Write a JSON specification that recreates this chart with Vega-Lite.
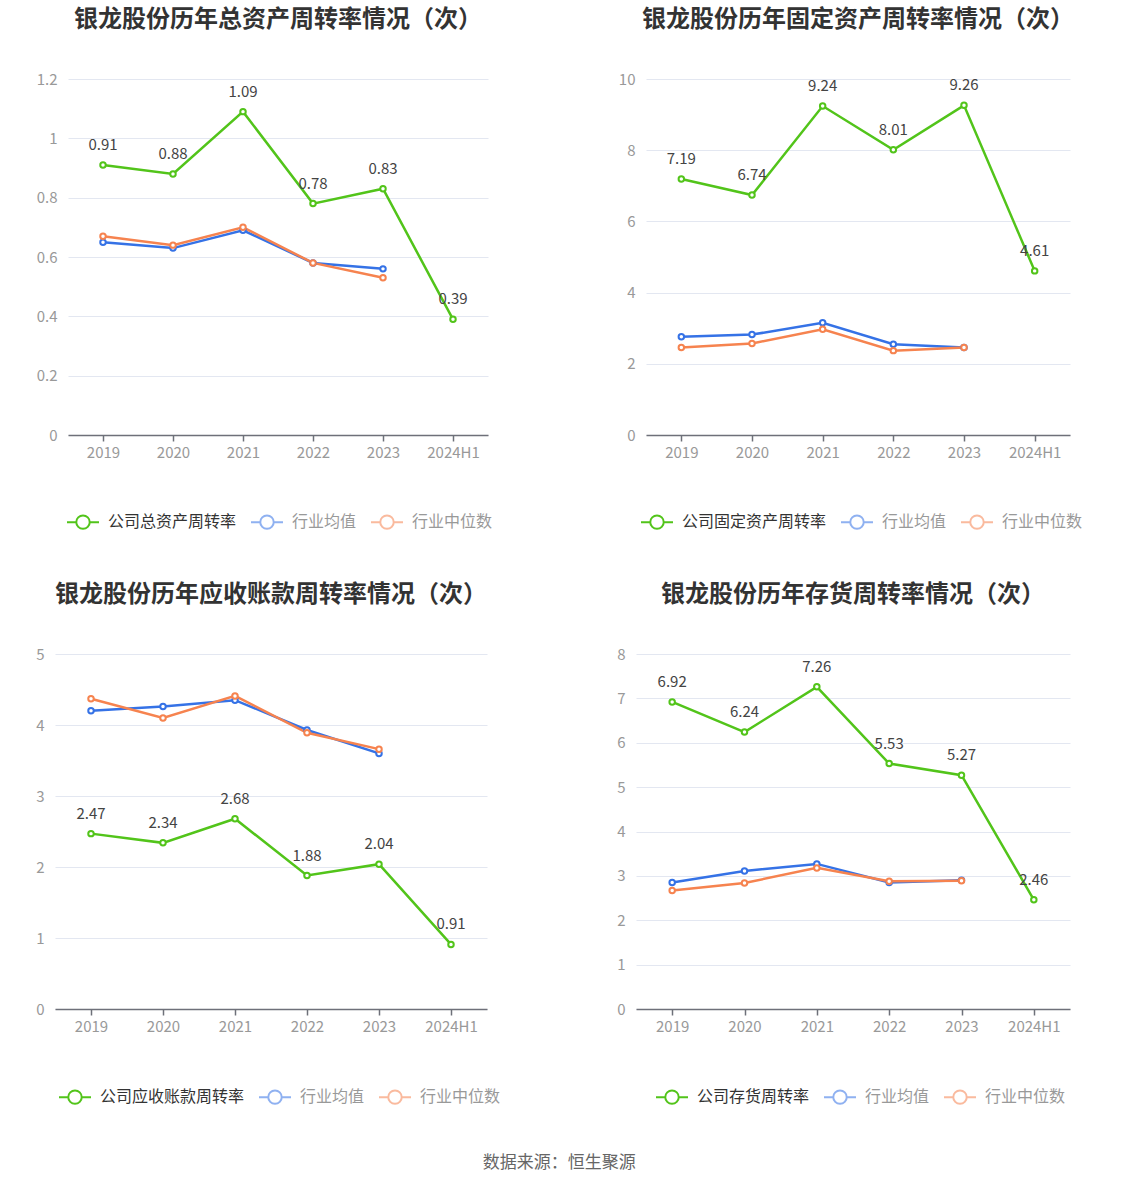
{
  "$schema": "https://vega.github.io/schema/vega-lite/v6.json",
  "background": "white",
  "padding": {"left": 35, "top": 8, "right": 0, "bottom": 10},
  "datasets": {
    "turnover": [
      {"panel": "A", "year": "2019", "series": "公司总资产周转率", "value": 0.91},
      {"panel": "A", "year": "2020", "series": "公司总资产周转率", "value": 0.88},
      {"panel": "A", "year": "2021", "series": "公司总资产周转率", "value": 1.09},
      {"panel": "A", "year": "2022", "series": "公司总资产周转率", "value": 0.78},
      {"panel": "A", "year": "2023", "series": "公司总资产周转率", "value": 0.83},
      {"panel": "A", "year": "2024H1", "series": "公司总资产周转率", "value": 0.39},
      {"panel": "A", "year": "2019", "series": "行业均值", "value": 0.65},
      {"panel": "A", "year": "2020", "series": "行业均值", "value": 0.63},
      {"panel": "A", "year": "2021", "series": "行业均值", "value": 0.69},
      {"panel": "A", "year": "2022", "series": "行业均值", "value": 0.58},
      {"panel": "A", "year": "2023", "series": "行业均值", "value": 0.56},
      {"panel": "A", "year": "2019", "series": "行业中位数", "value": 0.67},
      {"panel": "A", "year": "2020", "series": "行业中位数", "value": 0.64},
      {"panel": "A", "year": "2021", "series": "行业中位数", "value": 0.70},
      {"panel": "A", "year": "2022", "series": "行业中位数", "value": 0.58},
      {"panel": "A", "year": "2023", "series": "行业中位数", "value": 0.53},

      {"panel": "B", "year": "2019", "series": "公司固定资产周转率", "value": 7.19},
      {"panel": "B", "year": "2020", "series": "公司固定资产周转率", "value": 6.74},
      {"panel": "B", "year": "2021", "series": "公司固定资产周转率", "value": 9.24},
      {"panel": "B", "year": "2022", "series": "公司固定资产周转率", "value": 8.01},
      {"panel": "B", "year": "2023", "series": "公司固定资产周转率", "value": 9.26},
      {"panel": "B", "year": "2024H1", "series": "公司固定资产周转率", "value": 4.61},
      {"panel": "B", "year": "2019", "series": "行业均值", "value": 2.76},
      {"panel": "B", "year": "2020", "series": "行业均值", "value": 2.82},
      {"panel": "B", "year": "2021", "series": "行业均值", "value": 3.15},
      {"panel": "B", "year": "2022", "series": "行业均值", "value": 2.55},
      {"panel": "B", "year": "2023", "series": "行业均值", "value": 2.46},
      {"panel": "B", "year": "2019", "series": "行业中位数", "value": 2.46},
      {"panel": "B", "year": "2020", "series": "行业中位数", "value": 2.57},
      {"panel": "B", "year": "2021", "series": "行业中位数", "value": 2.97},
      {"panel": "B", "year": "2022", "series": "行业中位数", "value": 2.37},
      {"panel": "B", "year": "2023", "series": "行业中位数", "value": 2.46},

      {"panel": "C", "year": "2019", "series": "公司应收账款周转率", "value": 2.47},
      {"panel": "C", "year": "2020", "series": "公司应收账款周转率", "value": 2.34},
      {"panel": "C", "year": "2021", "series": "公司应收账款周转率", "value": 2.68},
      {"panel": "C", "year": "2022", "series": "公司应收账款周转率", "value": 1.88},
      {"panel": "C", "year": "2023", "series": "公司应收账款周转率", "value": 2.04},
      {"panel": "C", "year": "2024H1", "series": "公司应收账款周转率", "value": 0.91},
      {"panel": "C", "year": "2019", "series": "行业均值", "value": 4.20},
      {"panel": "C", "year": "2020", "series": "行业均值", "value": 4.26},
      {"panel": "C", "year": "2021", "series": "行业均值", "value": 4.35},
      {"panel": "C", "year": "2022", "series": "行业均值", "value": 3.93},
      {"panel": "C", "year": "2023", "series": "行业均值", "value": 3.60},
      {"panel": "C", "year": "2019", "series": "行业中位数", "value": 4.37},
      {"panel": "C", "year": "2020", "series": "行业中位数", "value": 4.10},
      {"panel": "C", "year": "2021", "series": "行业中位数", "value": 4.41},
      {"panel": "C", "year": "2022", "series": "行业中位数", "value": 3.89},
      {"panel": "C", "year": "2023", "series": "行业中位数", "value": 3.66},

      {"panel": "D", "year": "2019", "series": "公司存货周转率", "value": 6.92},
      {"panel": "D", "year": "2020", "series": "公司存货周转率", "value": 6.24},
      {"panel": "D", "year": "2021", "series": "公司存货周转率", "value": 7.26},
      {"panel": "D", "year": "2022", "series": "公司存货周转率", "value": 5.53},
      {"panel": "D", "year": "2023", "series": "公司存货周转率", "value": 5.27},
      {"panel": "D", "year": "2024H1", "series": "公司存货周转率", "value": 2.46},
      {"panel": "D", "year": "2019", "series": "行业均值", "value": 2.85},
      {"panel": "D", "year": "2020", "series": "行业均值", "value": 3.11},
      {"panel": "D", "year": "2021", "series": "行业均值", "value": 3.27},
      {"panel": "D", "year": "2022", "series": "行业均值", "value": 2.85},
      {"panel": "D", "year": "2023", "series": "行业均值", "value": 2.90},
      {"panel": "D", "year": "2019", "series": "行业中位数", "value": 2.67},
      {"panel": "D", "year": "2020", "series": "行业中位数", "value": 2.84},
      {"panel": "D", "year": "2021", "series": "行业中位数", "value": 3.18},
      {"panel": "D", "year": "2022", "series": "行业中位数", "value": 2.88},
      {"panel": "D", "year": "2023", "series": "行业中位数", "value": 2.89}
    ]
  },
  "title": {
    "text": "数据来源：恒生聚源",
    "orient": "bottom",
    "anchor": "middle",
    "fontSize": 17,
    "fontWeight": "normal",
    "color": "#666666",
    "offset": 47
  },
  "spacing": 50,
  "resolve": {"scale": {"color": "independent", "y": "independent", "x": "independent"}, "legend": {"color": "independent"}},
  "vconcat": [
    {
      "spacing": 125,
      "resolve": {"scale": {"color": "independent", "y": "independent", "x": "independent"}, "legend": {"color": "independent"}},
      "hconcat": [
        {
          "spacing": -20,
          "resolve": {"scale": {"color": "independent", "y": "independent", "x": "independent"}, "legend": {"color": "independent"}},
          "hconcat": [
            {"width": 1, "height": 1, "data": {"values": []}, "mark": "point"},
            {
              "width": 420,
              "height": 356,
              "title": "银龙股份历年总资产周转率情况（次）",
              "data": {"name": "turnover"},
              "transform": [{"filter": "datum.panel == 'A'"}],
              "layer": [
                {
                  "mark": {"type": "line", "strokeWidth": 2.5, "point": {"filled": false, "fill": "white", "size": 30, "strokeWidth": 2}},
                  "encoding": {
                    "x": {"field": "year", "type": "ordinal", "sort": null},
                    "y": {"field": "value", "type": "quantitative", "scale": {"domain": [0, 1.2], "nice": false}, "axis": {"values": [0, 0.2, 0.4, 0.6, 0.8, 1, 1.2]}},
                    "color": {
                      "field": "series", "type": "nominal",
                      "scale": {"domain": ["公司总资产周转率", "行业均值", "行业中位数"], "range": ["#52c41a", "#3572e6", "#f6834f"]},
                      "legend": {
                        "legendX": -2, "legendY": 426,
                        "encode": {
                          "labels": {"update": {"fill": {"signal": "indexof(['行业均值', '行业中位数'], datum.value) >= 0 ? '#999999' : '#333333'"}}},
                          "symbols": {"update": {"opacity": {"signal": "indexof(['行业均值', '行业中位数'], datum.value) >= 0 ? 0.55 : 1"}}}
                        }
                      }
                    }
                  }
                },
                {
                  "transform": [{"filter": "datum.series == '公司总资产周转率'"}],
                  "mark": {"type": "text", "dy": -20},
                  "encoding": {
                    "x": {"field": "year", "type": "ordinal", "sort": null},
                    "y": {"field": "value", "type": "quantitative"},
                    "text": {"field": "value", "type": "quantitative", "format": ".2f"}
                  }
                }
              ]
            }
          ]
        },
        {
          "width": 424,
          "height": 356,
          "title": "银龙股份历年固定资产周转率情况（次）",
          "data": {"name": "turnover"},
          "transform": [{"filter": "datum.panel == 'B'"}],
          "layer": [
            {
              "mark": {"type": "line", "strokeWidth": 2.5, "point": {"filled": false, "fill": "white", "size": 30, "strokeWidth": 2}},
              "encoding": {
                "x": {"field": "year", "type": "ordinal", "sort": null},
                "y": {"field": "value", "type": "quantitative", "scale": {"domain": [0, 10], "nice": false}, "axis": {"values": [0, 2, 4, 6, 8, 10]}},
                "color": {
                  "field": "series", "type": "nominal",
                  "scale": {"domain": ["公司固定资产周转率", "行业均值", "行业中位数"], "range": ["#52c41a", "#3572e6", "#f6834f"]},
                  "legend": {
                    "legendX": -6, "legendY": 426,
                    "encode": {
                      "labels": {"update": {"fill": {"signal": "indexof(['行业均值', '行业中位数'], datum.value) >= 0 ? '#999999' : '#333333'"}}},
                      "symbols": {"update": {"opacity": {"signal": "indexof(['行业均值', '行业中位数'], datum.value) >= 0 ? 0.55 : 1"}}}
                    }
                  }
                }
              }
            },
            {
              "transform": [{"filter": "datum.series == '公司固定资产周转率'"}],
              "mark": {"type": "text", "dy": -20},
              "encoding": {
                "x": {"field": "year", "type": "ordinal", "sort": null},
                "y": {"field": "value", "type": "quantitative"},
                "text": {"field": "value", "type": "quantitative", "format": ".2f"}
              }
            }
          ]
        }
      ]
    },
    {
      "spacing": 115,
      "resolve": {"scale": {"color": "independent", "y": "independent", "x": "independent"}, "legend": {"color": "independent"}},
      "hconcat": [
        {
          "width": 432,
          "height": 355,
          "title": "银龙股份历年应收账款周转率情况（次）",
          "data": {"name": "turnover"},
          "transform": [{"filter": "datum.panel == 'C'"}],
          "layer": [
            {
              "mark": {"type": "line", "strokeWidth": 2.5, "point": {"filled": false, "fill": "white", "size": 30, "strokeWidth": 2}},
              "encoding": {
                "x": {"field": "year", "type": "ordinal", "sort": null},
                "y": {"field": "value", "type": "quantitative", "scale": {"domain": [0, 5], "nice": false}, "axis": {"values": [0, 1, 2, 3, 4, 5]}},
                "color": {
                  "field": "series", "type": "nominal",
                  "scale": {"domain": ["公司应收账款周转率", "行业均值", "行业中位数"], "range": ["#52c41a", "#3572e6", "#f6834f"]},
                  "legend": {
                    "legendX": 3, "legendY": 426,
                    "encode": {
                      "labels": {"update": {"fill": {"signal": "indexof(['行业均值', '行业中位数'], datum.value) >= 0 ? '#999999' : '#333333'"}}},
                      "symbols": {"update": {"opacity": {"signal": "indexof(['行业均值', '行业中位数'], datum.value) >= 0 ? 0.55 : 1"}}}
                    }
                  }
                }
              }
            },
            {
              "transform": [{"filter": "datum.series == '公司应收账款周转率'"}],
              "mark": {"type": "text", "dy": -20},
              "encoding": {
                "x": {"field": "year", "type": "ordinal", "sort": null},
                "y": {"field": "value", "type": "quantitative"},
                "text": {"field": "value", "type": "quantitative", "format": ".2f"}
              }
            }
          ]
        },
        {
          "width": 434,
          "height": 355,
          "title": "银龙股份历年存货周转率情况（次）",
          "data": {"name": "turnover"},
          "transform": [{"filter": "datum.panel == 'D'"}],
          "layer": [
            {
              "mark": {"type": "line", "strokeWidth": 2.5, "point": {"filled": false, "fill": "white", "size": 30, "strokeWidth": 2}},
              "encoding": {
                "x": {"field": "year", "type": "ordinal", "sort": null},
                "y": {"field": "value", "type": "quantitative", "scale": {"domain": [0, 8], "nice": false}, "axis": {"values": [0, 1, 2, 3, 4, 5, 6, 7, 8]}},
                "color": {
                  "field": "series", "type": "nominal",
                  "scale": {"domain": ["公司存货周转率", "行业均值", "行业中位数"], "range": ["#52c41a", "#3572e6", "#f6834f"]},
                  "legend": {
                    "legendX": 19, "legendY": 426,
                    "encode": {
                      "labels": {"update": {"fill": {"signal": "indexof(['行业均值', '行业中位数'], datum.value) >= 0 ? '#999999' : '#333333'"}}},
                      "symbols": {"update": {"opacity": {"signal": "indexof(['行业均值', '行业中位数'], datum.value) >= 0 ? 0.55 : 1"}}}
                    }
                  }
                }
              }
            },
            {
              "transform": [{"filter": "datum.series == '公司存货周转率'"}],
              "mark": {"type": "text", "dy": -20},
              "encoding": {
                "x": {"field": "year", "type": "ordinal", "sort": null},
                "y": {"field": "value", "type": "quantitative"},
                "text": {"field": "value", "type": "quantitative", "format": ".2f"}
              }
            }
          ]
        }
      ]
    }
  ],
  "config": {
    "font": "Noto Sans CJK SC",
    "view": {"stroke": null},
    "scale": {"pointPadding": 0.5},
    "title": {"fontSize": 24, "fontWeight": "bold", "color": "#333333", "anchor": "middle", "offset": 40},
    "text": {"fontSize": 15, "color": "#444444", "baseline": "middle"},
    "axisX": {
      "title": null, "labelAngle": 0, "grid": false,
      "domainColor": "#6e7079", "domainWidth": 1.5, "tickColor": "#6e7079", "tickSize": 6, "tickWidth": 1.5,
      "labelColor": "#999999", "labelFontSize": 15, "labelPadding": 4
    },
    "axisY": {
      "title": null, "domain": false, "ticks": false, "format": "~r", "minExtent": 0,
      "gridColor": "#e3e7f1", "gridWidth": 1,
      "labelColor": "#999999", "labelFontSize": 15, "labelPadding": 11
    },
    "legend": {
      "orient": "none",
      "direction": "horizontal",
      "title": null,
      "symbolType": "M-1,0H-0.42M0.42,0H1M0.42,0A0.42,0.42,0,1,1,-0.42,0A0.42,0.42,0,1,1,0.42,0",
      "symbolSize": 1024,
      "symbolStrokeWidth": 2,
      "symbolFillColor": "white",
      "labelFontSize": 16,
      "labelOffset": 8,
      "labelLimit": 300,
      "columnPadding": 10,
      "labelColor": "#999999"
    }
  }
}
